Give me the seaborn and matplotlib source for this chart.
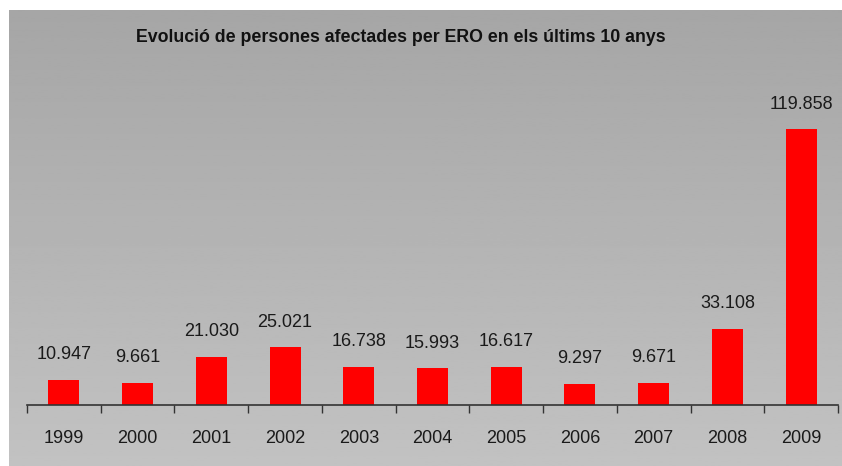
import numpy as np
import pandas as pd
import seaborn as sns
import matplotlib.pyplot as plt

years = ["1999", "2000", "2001", "2002", "2003", "2004", "2005", "2006", "2007", "2008", "2009"]
persons = [10947, 9661, 21030, 25021, 16738, 15993, 16617, 9297, 9671, 33108, 119858]
title = "Evolució de persones afectades per ERO en els últims 10 anys"

sns.set_theme(style="white")
plt.rcParams['font.family'] = ['Liberation Sans Narrow', 'Liberation Sans', 'DejaVu Sans']

W, H = 842, 466
fig = plt.figure(figsize=(W / 100, H / 100), dpi=100)
fig.patch.set_facecolor("white")

# gray gradient panel behind everything
bg = fig.add_axes([9 / W, 0, 1 - 9 / W, 1 - 10 / H], zorder=0)
grad = np.linspace(0.65, 0.76, 256).reshape(-1, 1)
bg.imshow(grad, aspect="auto", cmap="gray", vmin=0, vmax=1, extent=[0, 1, 0, 1])
bg.axis("off")

ax = fig.add_axes([27 / W, 1 - 405 / H, (838 - 27) / W, (405 - 83) / H], zorder=1)
ax.patch.set_alpha(0)

df = pd.DataFrame({"year": years, "persons": persons})
sns.barplot(data=df, x="year", y="persons", color="#ff0000", saturation=1,
            width=0.42, linewidth=0, ax=ax)

for i, v in enumerate(persons):
    ax.annotate(f"{v:,}".replace(",", "."), (i, v), xytext=(0, 12),
                textcoords="offset points", ha="center", va="bottom",
                fontsize=13, color="#1a1a1a")

ax.set_ylim(0, 140000)
ax.set_xlim(-0.5, len(years) - 0.5)
ax.set_yticks([])
ax.set_xlabel("")
ax.set_ylabel("")
for s in ["top", "right", "left"]:
    ax.spines[s].set_visible(False)
ax.spines["bottom"].set_color("#333333")
ax.spines["bottom"].set_linewidth(1.2)

ax.set_xticks(np.arange(-0.5, len(years), 1), minor=True)
ax.tick_params(axis="x", which="minor", length=6, width=1, color="#333333",
               direction="out", bottom=True)
ax.tick_params(axis="x", which="major", length=0, pad=18, labelsize=13,
               labelcolor="#1a1a1a")

fig.text(401 / W, 1 - 38 / H, title, ha="center", va="center",
         fontsize=12.8, fontweight="bold", color="#111111")

fig.savefig("out.png", dpi=100)
